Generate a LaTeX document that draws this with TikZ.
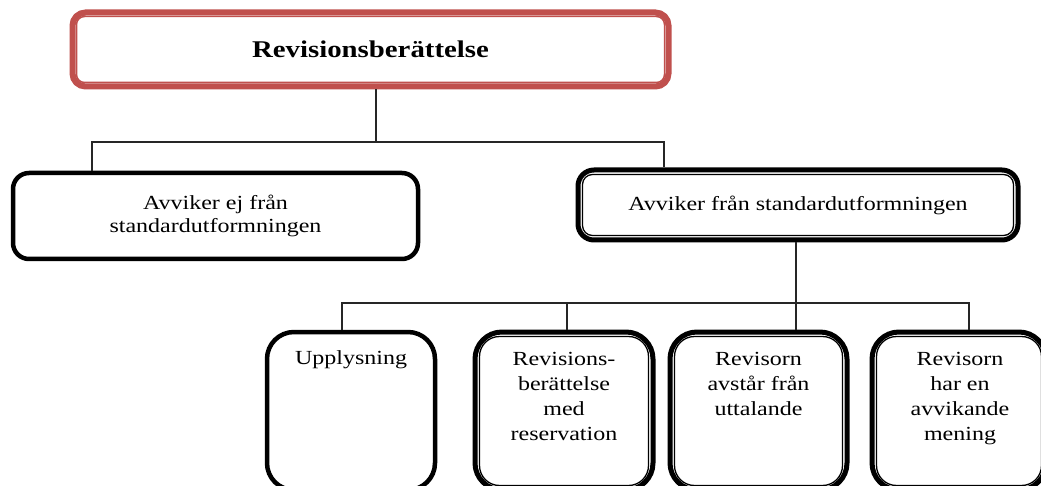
\documentclass[tikz,border=0pt]{standalone}
\usepackage{fontspec}
\setmainfont[FakeStretch=1.2]{Liberation Serif}
\definecolor{boxred}{HTML}{C0504D}
\begin{document}
\begin{tikzpicture}[x=1pt,y=-1pt,
  conn/.style={draw=black!85,line width=1.1pt},
  titlebox/.style={draw=boxred,line width=6pt,rounded corners=13pt,fill=white,
    font=\fontsize{24}{28}\selectfont\bfseries,inner sep=0pt},
  thickbox/.style={draw=black,line width=4.5pt,fill=white,inner sep=0pt,align=center,
    font=\fontsize{20}{23}\selectfont},
  txt/.style={align=center,font=\fontsize{20}{25}\selectfont,inner sep=0pt,anchor=north},
  innerline/.style={draw=black,line width=1.3pt},
]
\fill[white] (0,0) rectangle (1041,486);
\useasboundingbox (0,0) rectangle (1041,486);

% title
\node[titlebox,minimum width=596pt,minimum height=74pt] (top) at (370.5,49.5) {Revisionsberättelse};
\draw[draw=boxred,line width=1.5pt,rounded corners=8pt]
  ([shift={(7pt,-7pt)}]top.north west) rectangle ([shift={(-7pt,7pt)}]top.south east);

% second level
\node[thickbox,rounded corners=16pt,minimum width=405pt,minimum height=86pt] (left) at (215.5,216)
  {Avviker ej från\\standardutformningen};
\node[thickbox,line width=5pt,rounded corners=16pt,minimum width=440pt,minimum height=70pt] (right) at (798,205)
  {Avviker från standardutformningen};
\draw[innerline,rounded corners=10pt]
  ([shift={(7pt,-7pt)}]right.north west) rectangle ([shift={(-7pt,7pt)}]right.south east);

% third level
\node[thickbox,rounded corners=27pt,minimum width=168pt,minimum height=158pt] (b1) at (351,411) {};
\node[thickbox,line width=5pt,rounded corners=27pt,minimum width=178pt,minimum height=158pt] (b2) at (564,411) {};
\node[thickbox,line width=5pt,rounded corners=27pt,minimum width=177pt,minimum height=158pt] (b3) at (758.5,411) {};
\node[thickbox,line width=5pt,rounded corners=27pt,minimum width=174pt,minimum height=158pt] (b4) at (959,411) {};
\foreach \b in {b2,b3,b4}{
  \draw[innerline,rounded corners=20pt]
    ([shift={(7pt,-7pt)}]\b.north west) rectangle ([shift={(-7pt,7pt)}]\b.south east);
}
\node[txt] (t1) at ([yshift=-21pt]b1.north) {Upplysning};
\node[txt] (t2) at ([yshift=-23pt]b2.north) {Revisions-\\berättelse\\med\\reservation};
\node[txt] (t3) at ([yshift=-23pt]b3.north) {Revisorn\\avstår från\\uttalande};
\node[txt] (t4) at ([yshift=-23pt,xshift=1pt]b4.north) {Revisorn\\har en\\avvikande\\mening};

% connectors
\coordinate (h1L) at (92,142);
\coordinate (h1M) at (376,142);
\coordinate (h1R) at (664,142);
\draw[conn] (top.south -| h1M) -- (h1M);
\draw[conn] (left.north -| h1L) -- (h1L) -- (h1R) -- (right.north -| h1R);

\coordinate (h2a) at (342,303);
\coordinate (h2b) at (567,303);
\coordinate (h2c) at (796,303);
\coordinate (h2d) at (969,303);
\draw[conn] (right.south -| h2c) -- (h2c);
\draw[conn] (b1.north -| h2a) -- (h2a) -- (h2d) -- (b4.north -| h2d);
\draw[conn] (b2.north -| h2b) -- (h2b);
\draw[conn] (b3.north -| h2c) -- (h2c);
\end{tikzpicture}
\end{document}
